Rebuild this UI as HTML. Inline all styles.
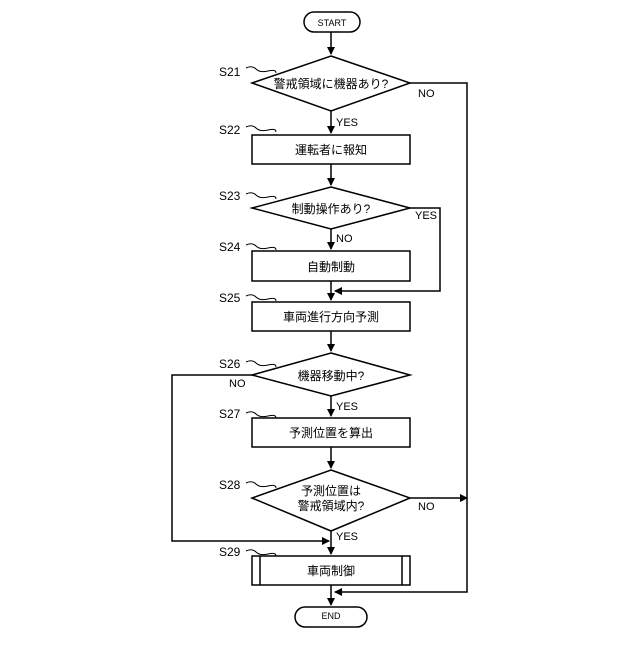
<!DOCTYPE html>
<html><head><meta charset="utf-8"><style>body{margin:0;background:#fff}</style></head><body>
<svg width="640" height="640" xmlns="http://www.w3.org/2000/svg" font-family="Liberation Sans, Noto Sans CJK JP, sans-serif">
<defs><marker id="a" markerWidth="8" markerHeight="8" refX="7" refY="4" orient="auto" markerUnits="userSpaceOnUse"><path d="M0,0 L8,4 L0,8 z" fill="#000"/></marker></defs>
<g fill="none" stroke="#000" stroke-width="1.5">
<rect x="304" y="12" width="56" height="20" rx="10"/>
<line x1="331" y1="32" x2="331" y2="54" marker-end="url(#a)"/>
<polygon points="331,56 410,83 331,111 252,83"/>
<line x1="331" y1="111" x2="331" y2="133" marker-end="url(#a)"/>
<rect x="252" y="135" width="158" height="29"/>
<line x1="331" y1="164" x2="331" y2="185" marker-end="url(#a)"/>
<polygon points="331,187 410,208 331,229 252,208"/>
<line x1="331" y1="229" x2="331" y2="249" marker-end="url(#a)"/>
<rect x="252" y="251" width="158" height="30"/>
<polyline points="410,208 440,208 440,291 335,291" marker-end="url(#a)"/>
<line x1="331" y1="281" x2="331" y2="300" marker-end="url(#a)"/>
<rect x="252" y="302" width="158" height="29"/>
<line x1="331" y1="331" x2="331" y2="351" marker-end="url(#a)"/>
<polygon points="331,353 410,375 331,396 252,375"/>
<line x1="331" y1="396" x2="331" y2="416" marker-end="url(#a)"/>
<rect x="252" y="418" width="158" height="29"/>
<line x1="331" y1="447" x2="331" y2="468" marker-end="url(#a)"/>
<polygon points="331,470 410,498 331,531 252,498"/>
<line x1="331" y1="531" x2="331" y2="554" marker-end="url(#a)"/>
<polyline points="252,375 172,375 172,541 329,541" marker-end="url(#a)"/>
<line x1="410" y1="498" x2="467" y2="498" marker-end="url(#a)"/>
<polyline points="410,83 467,83 467,592 335,592" marker-end="url(#a)"/>
<rect x="252" y="556" width="158" height="29"/>
<line x1="260" y1="556" x2="260" y2="585"/><line x1="402" y1="556" x2="402" y2="585"/>
<line x1="331" y1="585" x2="331" y2="605" marker-end="url(#a)"/>
<rect x="295" y="607" width="72" height="20" rx="10"/>
<g stroke-width="1">
<path d="M246,68 q6,-3 10,1 t12,2 t8,2"/>
<path d="M246,127 q6,-3 10,1 t12,2 t8,2"/>
<path d="M246,194 q6,-3 10,1 t12,2 t8,2"/>
<path d="M246,245 q6,-3 10,1 t12,2 t8,2"/>
<path d="M246,296 q6,-3 10,1 t12,2 t8,2"/>
<path d="M246,362 q6,-3 10,1 t12,2 t8,2"/>
<path d="M246,413 q6,-3 10,1 t12,2 t8,2"/>
<path d="M246,483 q6,-3 10,1 t12,2 t8,2"/>
<path d="M246,551 q6,-3 10,1 t12,2 t8,2"/>
</g></g>
<g font-size="12" fill="#000">
<text x="332" y="26" font-size="9" text-anchor="middle">START</text>
<text x="331" y="619" font-size="9" text-anchor="middle">END</text>
<text x="331" y="88" text-anchor="middle">警戒領域に機器あり?</text>
<text x="331" y="154" text-anchor="middle">運転者に報知</text>
<text x="331" y="213" text-anchor="middle">制動操作あり?</text>
<text x="331" y="271" text-anchor="middle">自動制動</text>
<text x="331" y="321" text-anchor="middle">車両進行方向予測</text>
<text x="331" y="380" text-anchor="middle">機器移動中?</text>
<text x="331" y="437" text-anchor="middle">予測位置を算出</text>
<text x="331" y="495" text-anchor="middle">予測位置は</text>
<text x="331" y="510" text-anchor="middle">警戒領域内?</text>
<text x="331" y="575" text-anchor="middle">車両制御</text>
<g font-size="11">
<text x="418" y="97">NO</text>
<text x="336" y="126">YES</text>
<text x="415" y="219">YES</text>
<text x="336" y="242">NO</text>
<text x="229" y="387">NO</text>
<text x="336" y="410">YES</text>
<text x="418" y="510">NO</text>
<text x="336" y="540">YES</text>
</g>
<g font-size="12">
<text x="219" y="76">S21</text><text x="219" y="134">S22</text><text x="219" y="200">S23</text>
<text x="219" y="251">S24</text><text x="219" y="302">S25</text><text x="219" y="368">S26</text>
<text x="219" y="418">S27</text><text x="219" y="489">S28</text><text x="219" y="556">S29</text>
</g></g>
</svg>
</body></html>
